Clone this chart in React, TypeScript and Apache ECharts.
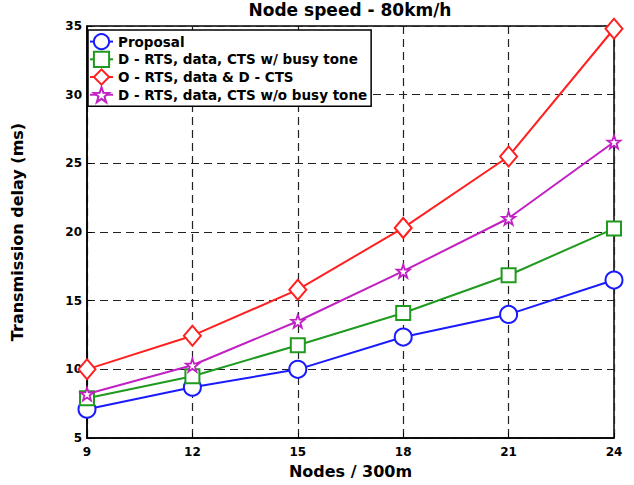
import React, { useEffect, useRef } from 'react';
import * as echarts from 'echarts';

const nodes = [9, 12, 15, 18, 21, 24];
const proposal = [7.1, 8.7, 10.0, 12.35, 14.0, 16.5];
const dRtsBusy = [7.9, 9.5, 11.75, 14.1, 16.85, 20.25];
const oRtsDCts = [10.0, 12.45, 15.8, 20.3, 25.5, 34.8];
const dRtsNoBusy = [8.2, 10.3, 13.5, 17.15, 21.0, 26.55];
const seriesNames = [
  'Proposal',
  'D - RTS, data, CTS w/ busy tone',
  'O - RTS, data & D - CTS',
  'D - RTS, data, CTS w/o busy tone',
];
const titleText = 'Node speed - 80km/h';
const xName = 'Nodes / 300m';
const yName = 'Transmission delay (ms)';

const FONT = 'DejaVu Sans';
const STAR = 'path://M0,-10 L2.35,-3.24 L9.51,-3.09 L3.8,1.24 L5.88,8.09 L0,4 L-5.88,8.09 L-3.8,1.24 L-9.51,-3.09 L-2.35,-3.24 Z';

export default function App() {
  const ref = useRef<HTMLDivElement>(null);
  useEffect(() => {
    if (!ref.current) return;
    const chart = echarts.init(ref.current, undefined, { renderer: 'svg' });
    const specs = [
      { name: seriesNames[0], vals: proposal, color: '#1a1aff', symbol: 'circle', size: 17, bw: 2 },
      { name: seriesNames[1], vals: dRtsBusy, color: '#1f9a1f', symbol: 'rect', size: 14, bw: 2 },
      { name: seriesNames[2], vals: oRtsDCts, color: '#ff2020', symbol: 'diamond', size: [17, 20], bw: 2 },
      { name: seriesNames[3], vals: dRtsNoBusy, color: '#c020c4', symbol: STAR, size: 13, bw: 1.8 },
    ];
    const axisLabel = { fontFamily: FONT, fontWeight: 'bold' as const, fontSize: 12, color: '#000' };
    const splitLine = { show: true, lineStyle: { color: '#222', width: 1.2, type: [8, 5] as any } };
    chart.setOption({
      animation: false,
      backgroundColor: '#fff',
      graphic: [
        {
          type: 'text',
          x: 350,
          y: 1,
          style: { text: titleText, textAlign: 'center', font: `bold 17px "${FONT}"`, fill: '#000' },
        },
      ],
      grid: { left: 87, right: 20, top: 26, bottom: 47, show: true, borderColor: '#000', borderWidth: 1.5 },
      legend: {
        orient: 'vertical',
        left: 88,
        top: 30,
        padding: [3, 4, 3, 1],
        itemWidth: 23,
        itemHeight: 19,
        itemGap: 0.5,
        backgroundColor: '#fff',
        borderColor: '#000',
        borderWidth: 1.5,
        borderRadius: 0,
        textStyle: { fontFamily: FONT, fontWeight: 'bold', fontSize: 13.5, color: '#000' },
        data: seriesNames,
      },
      xAxis: {
        type: 'value',
        min: 9,
        max: 24,
        interval: 3,
        name: xName,
        nameLocation: 'middle',
        nameGap: 25,
        nameTextStyle: { fontFamily: FONT, fontWeight: 'bold', fontSize: 16, color: '#000' },
        axisLine: { show: true, lineStyle: { color: '#000', width: 1.5 } },
        axisTick: { show: true, inside: true, length: 5, lineStyle: { color: '#000' } },
        axisLabel: { ...axisLabel, margin: 8 },
        splitLine,
      },
      yAxis: {
        type: 'value',
        min: 5,
        max: 35,
        interval: 5,
        name: yName,
        nameLocation: 'middle',
        nameGap: 62,
        nameTextStyle: { fontFamily: FONT, fontWeight: 'bold', fontSize: 16, color: '#000' },
        axisLine: { show: true, lineStyle: { color: '#000', width: 1.5 } },
        axisTick: { show: true, inside: true, length: 5, lineStyle: { color: '#000' } },
        axisLabel: { ...axisLabel, margin: 5 },
        splitLine,
      },
      series: specs.map((s, i) => ({
        type: 'line',
        name: s.name,
        data: nodes.map((x, j) => [x, s.vals[j]]),
        symbol: s.symbol,
        symbolSize: s.size,
        showAllSymbol: true,
        lineStyle: { color: s.color, width: 2 },
        itemStyle: { color: '#fff', borderColor: s.color, borderWidth: s.bw },
        z: 2 + i,
      })),
    });
    return () => chart.dispose();
  }, []);
  return <div ref={ref} style={{ width: 634, height: 485, position: 'absolute', left: 0, top: 0 }} />;
}
